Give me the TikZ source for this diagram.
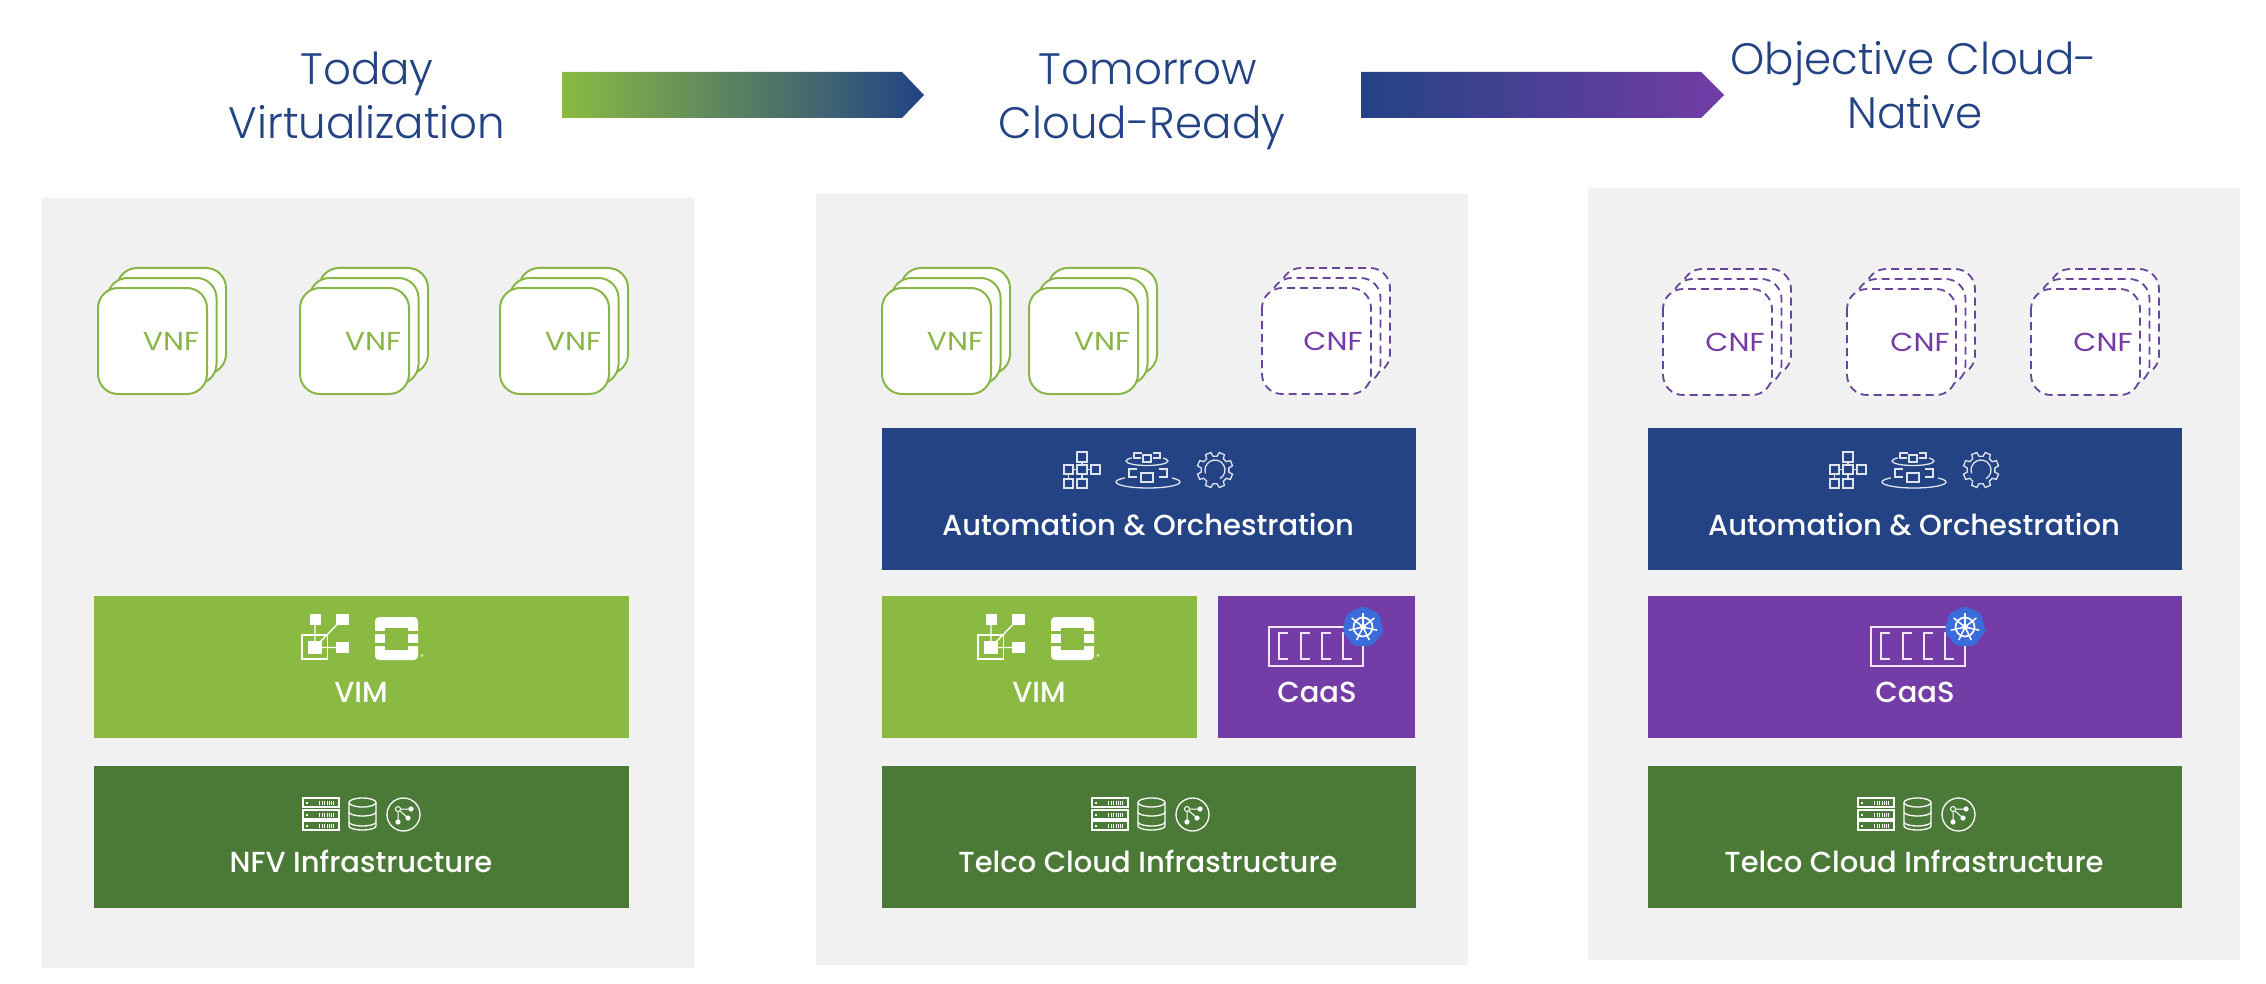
\documentclass[tikz,border=0pt]{standalone}
\usepackage{fontspec}
\setmainfont{Poppins}
\newfontfamily\titlefont[FakeStretch=0.99]{Poppins Light}
\newfontfamily\labelfont{Poppins Medium}
\newfontfamily\smallfont[FakeStretch=1.15]{Poppins}
\definecolor{cBlue}{HTML}{234385}
\definecolor{cGreen}{HTML}{8ABA41}
\definecolor{cDark}{HTML}{4B7937}
\definecolor{cPurple}{HTML}{733CA6}
\definecolor{cPanel}{HTML}{F1F1F1}
\definecolor{cLine}{HTML}{8AB648}
\definecolor{cDash}{HTML}{66459B}
\definecolor{cKube}{HTML}{3A6CDB}
\definecolor{cPale}{HTML}{F4E6F8}
\definecolor{cMid}{HTML}{6B9A6C}
\tikzset{
  x=1pt,y=-1pt,
  panelbox/.style={fill=cPanel,inner sep=0,outer sep=0,anchor=north west},
  barbox/.style={inner sep=0,outer sep=0,anchor=north west,minimum height=142pt},
  headtext/.style={font=\titlefont\fontsize{44}{44}\selectfont,text=cBlue,anchor=base,inner sep=0},
  bartext/.style={font=\labelfont\fontsize{29}{29}\selectfont,text=white,anchor=base,inner sep=0},
  vnftext/.style={font=\smallfont\fontsize{26}{26}\selectfont,text=cLine,anchor=base,inner sep=0},
  cnftext/.style={font=\smallfont\fontsize{26}{26}\selectfont,text=cPurple,anchor=base,inner sep=0},
  vcard/.style={draw=cLine,line width=2pt,fill=white,rounded corners=20pt},
  ccard/.style={draw=cDash,line width=1.8pt,fill=white,rounded corners=20pt,dash pattern=on 8pt off 5pt},
  thin icon/.style={draw=white,line width=1.3pt,fill=none},
  vnfstack/.pic={
    \draw[vcard] (19,-20) rectangle (128,86);
    \draw[vcard] (9.5,-10) rectangle (118.5,96);
    \draw[vcard] (0,0) rectangle (109,106);
  },
  cnfstack/.pic={
    \draw[ccard] (19,-20) rectangle (128,86);
    \draw[ccard] (9.5,-10) rectangle (118.5,96);
    \draw[ccard] (0,0) rectangle (109,106);
  },
  autoicon/.pic={
    \begin{scope}[thin icon,draw=white!85!cBlue]
      \draw (1077,452) rectangle (1087,462);
      \draw (1064,465) rectangle (1073,474);
      \draw (1077,465) rectangle (1087,474);
      \draw (1091,465) rectangle (1100,474);
      \draw (1064,479) rectangle (1073,488);
      \draw (1077,479) rectangle (1087,488);
      \draw (1082,462) -- (1082,465) (1073,469.5) -- (1077,469.5) (1087,469.5) -- (1091,469.5);
      \draw (1068.5,474) -- (1068.5,479) (1082,474) -- (1082,479);
      \draw (1148,482) ellipse (32 and 6);
      \draw[fill=cBlue,draw=cBlue,line width=0pt] (1125,466) rectangle (1171,479);
      \draw (1137,469) -- (1129,469) -- (1129,477) -- (1137,477);
      \draw (1159,469) -- (1167,469) -- (1167,477) -- (1159,477);
      \draw[fill=cBlue] (1141,473) rectangle (1153,482);
      \draw (1147,461) ellipse (21 and 4.5);
      \draw[fill=cBlue,draw=cBlue,line width=0pt] (1132,452) rectangle (1162,459.5);
      \draw[fill=cBlue] (1143,455) rectangle (1151,462);
      \draw (1142,453) -- (1134,453) -- (1134,458) -- (1141,458);
      \draw (1153,453) -- (1160,453) -- (1160,458) -- (1153,458);
      \draw ({1215+14*cos(-22.5-14)},{470+14*sin(-22.5-14)})
        \foreach \a in {-22.5,22.5,...,315}{
          -- ({1215+14*cos(\a-14)},{470+14*sin(\a-14)})
          -- ({1215+18*cos(\a-9)},{470+18*sin(\a-9)})
          -- ({1215+18*cos(\a+9)},{470+18*sin(\a+9)})
          -- ({1215+14*cos(\a+14)},{470+14*sin(\a+14)})
        } -- cycle;
      \draw ({1215+10*cos(60)},{470+10*sin(60)}) arc[start angle=60,end angle=-200,radius=10];
    \end{scope}
  },
  infraicon/.pic={
    \begin{scope}[thin icon]
      \foreach \yy in {798,810,821}{
        \draw (1092,\yy) rectangle (1128,\yy+9);
        \fill[white] (1094.5,\yy+3.5) rectangle (1096.5,\yy+5.5);
        \foreach \xx in {1108,1110.5,1113,1116,1118,1120,1122}
          \fill[white] (\xx,\yy+2.5) rectangle (\xx+1.1,\yy+6.5);
      }
      \draw (1138,802.5) -- (1138,826) arc[start angle=180,end angle=360,x radius=13.5,y radius=-4]
        -- (1165,802.5);
      \draw (1151.5,802.5) ellipse (13.5 and 4.5);
      \draw (1138,812) arc[start angle=180,end angle=360,x radius=13.5,y radius=-4];
      \draw (1138,822) arc[start angle=180,end angle=360,x radius=13.5,y radius=-4];
      \draw (1192.5,814.5) ellipse (16.5 and 16.5);
      \draw[line width=1pt] (1187,811.5) -- (1187,822) (1189.5,809) -- (1200,809) (1189,811) -- (1197,818);
      \draw[line width=1pt] (1187,809) circle (2.5);
      \fill[white] (1200,809) circle (2.6) (1197,818) circle (2.6) (1187,822) circle (2.6);
    \end{scope}
  },
  vimicon/.pic={
    \fill[white] (985.5,614) rectangle (997,625);
    \fill[white] (1012,614) rectangle (1024.5,625);
    \fill[white] (1012,642) rectangle (1024.5,653);
    \fill[white] (984,641) rectangle (998,654);
    \draw[white,line width=1.4pt] (978,635) rectangle (1003.5,659);
    \draw[white,line width=1.4pt] (991,625) -- (991,641) (991,647) -- (1018,619.5) (998,647.5) -- (1012,647.5);
    \fill[white,rounded corners=4pt] (1051,617) rectangle (1094,660);
    \fill[cGreen] (1061,628) rectangle (1084,650);
    \fill[cGreen] (1051,631) rectangle (1061,634) (1084,631) rectangle (1094,634);
    \fill[cGreen] (1051,643) rectangle (1061,646) (1084,643) rectangle (1094,646);
    \fill[white!60!cGreen] (1098,655.5) circle (1.6);
  },
  caasicon/.pic={
    \draw[cPale,line width=2pt] (1269,627) rectangle (1363,666);
    \foreach \xx in {1279,1301,1322,1343}
      \draw[cPale,line width=2pt] (\xx+9,633) -- (\xx,633) -- (\xx,659) -- (\xx+9,659);
    \fill[cKube,rounded corners=3pt] (1363,606)
      \foreach \i in {1,...,6}{ -- ({1363+21*cos(-90+\i*360/7)},{627+21*sin(-90+\i*360/7)}) } -- cycle;
    \draw[white,line width=1.7pt] (1363,627) circle (9.5);
    \fill[white] (1363,627) circle (3);
    \foreach \i in {0,...,6}
      \draw[white,line width=1.5pt] (1363,627) -- ({1363+14.5*cos(-90+\i*360/7)},{627+14.5*sin(-90+\i*360/7)});
  },
}
\begin{document}
\begin{tikzpicture}
\useasboundingbox[fill=white] (0,0) rectangle (2266,984);
% gradient arrows
\shade[left color=cGreen,middle color=cMid,right color=cBlue] (562,72) -- (902,72) -- (924,95) -- (902,118) -- (562,118) -- cycle;
\shade[left color=cBlue,right color=cPurple] (1361,72) -- (1701,72) -- (1724,95) -- (1701,118) -- (1361,118) -- cycle;
% headings
\node[headtext] (h1a) at (367,85) {Today};
\node[headtext] (h1b) at (367,139) {Virtualization};
\node[headtext] (h2a) at (1148,85) {Tomorrow};
\node[headtext] (h2b) at (1142,139) {Cloud-Ready};
\node[headtext] (h3a) at (1914,75) {Objective Cloud-};
\node[headtext] (h3b) at (1915,129) {Native};
% panels
\node[panelbox,minimum width=652pt,minimum height=770pt] (p1) at (42,198) {};
\node[panelbox,minimum width=652pt,minimum height=771pt] (p2) at (816,194) {};
\node[panelbox,minimum width=652pt,minimum height=772pt] (p3) at (1588,188) {};
% stacks
\pic at (98,288) {vnfstack};
\pic at (300,288) {vnfstack};
\pic at (500,288) {vnfstack};
\pic at (882,288) {vnfstack};
\pic at (1029,288) {vnfstack};
\pic at (1262,288) {cnfstack};
\pic at (1663,289) {cnfstack};
\pic at (1847,289) {cnfstack};
\pic at (2031,289) {cnfstack};
\node[vnftext] (v1) at (171,350) {VNF};
\node[vnftext] (v2) at (373,350) {VNF};
\node[vnftext] (v3) at (573,350) {VNF};
\node[vnftext] (v4) at (955,350) {VNF};
\node[vnftext] (v5) at (1102,350) {VNF};
\node[cnftext] (c1) at (1333,350) {CNF};
\node[cnftext] (c2) at (1735,351) {CNF};
\node[cnftext] (c3) at (1920,351) {CNF};
\node[cnftext] (c4) at (2103,351) {CNF};
% panel 1
\node[barbox,fill=cGreen,minimum width=535pt] (vim1) at (94,596) {};
\node[barbox,fill=cDark,minimum width=535pt] (inf1) at (94,766) {};
\pic at (-676,0) {vimicon};
\pic at (-789,0) {infraicon};
\node[bartext] (tvim1) at (361,702) {VIM};
\node[bartext] (tinf1) at (361,872) {NFV Infrastructure};
% panel 2
\node[barbox,fill=cBlue,minimum width=534pt] (auto2) at (882,428) {};
\node[barbox,fill=cGreen,minimum width=315pt] (vim2) at (882,596) {};
\node[barbox,fill=cPurple,minimum width=197pt] (caas2) at (1218,596) {};
\node[barbox,fill=cDark,minimum width=534pt] (inf2) at (882,766) {};
\pic at (0,0) {autoicon};
\pic at (0,0) {vimicon};
\pic at (0,0) {caasicon};
\pic at (0,0) {infraicon};
\node[bartext] (tauto2) at (1148,535) {Automation \& Orchestration};
\node[bartext] (tvim2) at (1039,702) {VIM};
\node[bartext] (tcaas2) at (1317,702) {CaaS};
\node[bartext] (tinf2) at (1148,872) {Telco Cloud Infrastructure};
% panel 3
\node[barbox,fill=cBlue,minimum width=534pt] (auto3) at (1648,428) {};
\node[barbox,fill=cPurple,minimum width=534pt] (caas3) at (1648,596) {};
\node[barbox,fill=cDark,minimum width=534pt] (inf3) at (1648,766) {};
\pic at (766,0) {autoicon};
\pic at (602,0) {caasicon};
\pic at (766,0) {infraicon};
\node[bartext] (tauto3) at (1914,535) {Automation \& Orchestration};
\node[bartext] (tcaas3) at (1915,702) {CaaS};
\node[bartext] (tinf3) at (1914,872) {Telco Cloud Infrastructure};
\end{tikzpicture}
\end{document}
